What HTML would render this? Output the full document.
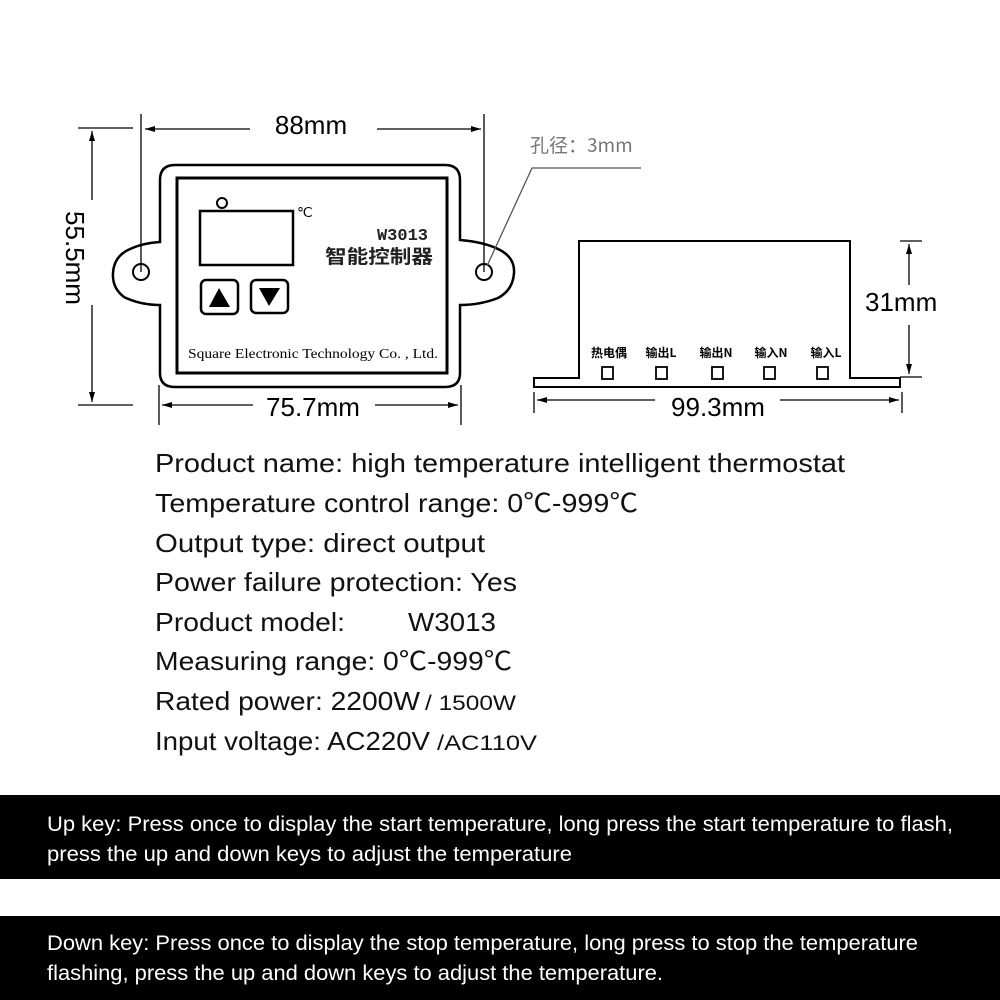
<!DOCTYPE html>
<html><head><meta charset="utf-8"><style>
html,body{margin:0;padding:0;background:#fff;}
svg{display:block;}
</style></head><body>
<svg width="1000" height="1000" viewBox="0 0 1000 1000" xmlns="http://www.w3.org/2000/svg" font-family="'Liberation Sans','Noto Sans CJK SC',sans-serif">
<defs>
<marker id="a" markerWidth="10" markerHeight="8" refX="10" refY="4" orient="auto" markerUnits="userSpaceOnUse"><path d="M0,1 L10,4 L0,7 Z" fill="#000"/></marker>
</defs>
<rect width="1000" height="1000" fill="#fff"/>
<g stroke="#000" stroke-width="1.3" fill="none">
<line x1="141" y1="114" x2="141" y2="272"/>
<line x1="484" y1="114" x2="484" y2="272"/>
<line x1="250" y1="129" x2="145" y2="129" marker-end="url(#a)"/>
<line x1="377" y1="129" x2="481" y2="129" marker-end="url(#a)"/>
<line x1="78" y1="128" x2="133" y2="128"/>
<line x1="78" y1="405" x2="133" y2="405"/>
<line x1="92" y1="200" x2="92" y2="131" marker-end="url(#a)"/>
<line x1="92" y1="305" x2="92" y2="402" marker-end="url(#a)"/>
<line x1="159" y1="385" x2="159" y2="425"/>
<line x1="461" y1="385" x2="461" y2="425"/>
<line x1="253" y1="405" x2="162" y2="405" marker-end="url(#a)"/>
<line x1="375" y1="405" x2="458" y2="405" marker-end="url(#a)"/>
</g>
<path d="M175,165 H445 Q460,165 460,180 V240 Q485,242 500,250 Q515,258 514,273 Q513,290 498,298 Q480,305 460,305 V373 Q460,387 445,387 H175 Q160,387 160,373 V305 Q140,305 124,297 Q112,288 113,273 Q114,257 128,250 Q142,243 160,242 V180 Q160,165 175,165 Z" fill="none" stroke="#000" stroke-width="2.5"/>
<circle cx="141" cy="272" r="8" fill="none" stroke="#000" stroke-width="2"/>
<circle cx="484" cy="272" r="8" fill="none" stroke="#000" stroke-width="2"/>
<rect x="177" y="178" width="270" height="195" fill="none" stroke="#000" stroke-width="3"/>
<rect x="200" y="211" width="93" height="54" fill="none" stroke="#000" stroke-width="2.5"/>
<circle cx="222" cy="203" r="5" fill="#fff" stroke="#000" stroke-width="2"/>
<text x="297" y="217" font-family="'Liberation Serif',serif" font-size="14">℃</text>
<text x="428" y="240" font-size="17" font-weight="bold" text-anchor="end" fill="#222" font-family="'Liberation Mono',monospace">W3013</text>
<text x="325" y="263" font-size="19" font-weight="bold" fill="#222" font-family="'Noto Sans CJK SC',sans-serif" textLength="108" lengthAdjust="spacingAndGlyphs">智能控制器</text>
<rect x="201" y="280" width="37" height="34" rx="5" fill="none" stroke="#000" stroke-width="2.5"/>
<path d="M209,307 L219,288 L230,307 Z" fill="#000"/>
<rect x="251" y="280" width="37" height="33" rx="5" fill="none" stroke="#000" stroke-width="2.5"/>
<path d="M259,288 L280,288 L269,306 Z" fill="#000"/>
<text x="188" y="358" font-size="14" font-family="'Liberation Serif',serif" textLength="250" lengthAdjust="spacingAndGlyphs">Square Electronic Technology Co. , Ltd.</text>
<text x="311" y="134" font-size="26" text-anchor="middle">88mm</text>
<text x="313" y="416" font-size="26" text-anchor="middle">75.7mm</text>
<text transform="translate(66,258) rotate(90)" font-size="26" text-anchor="middle">55.5mm</text>
<text x="530" y="152" font-size="19" fill="#777" font-family="'Noto Sans CJK SC',sans-serif">孔径：3mm</text>
<polyline points="641,168 532,168 487,266" fill="none" stroke="#555" stroke-width="1.3"/>
<path d="M534,378 H579 V241 H850 V378 H900 V387 H534 Z" fill="none" stroke="#000" stroke-width="2"/>
<g font-size="12" font-weight="bold" text-anchor="middle" font-family="'Noto Sans CJK SC',sans-serif">
<text x="609" y="357">热电偶</text><text x="661" y="357">输出L</text><text x="716" y="357">输出N</text><text x="771" y="357">输入N</text><text x="826" y="357">输入L</text>
</g>
<g fill="#fff" stroke="#000" stroke-width="1.8">
<rect x="602" y="367" width="11" height="12"/><rect x="656" y="367" width="11" height="12"/><rect x="712" y="367" width="11" height="12"/><rect x="764" y="367" width="11" height="12"/><rect x="817" y="367" width="11" height="12"/>
</g>
<g stroke="#000" stroke-width="1.3" fill="none">
<line x1="900" y1="241" x2="922" y2="241"/><line x1="900" y1="377" x2="922" y2="377"/>
<line x1="909" y1="285" x2="909" y2="244" marker-end="url(#a)"/>
<line x1="909" y1="325" x2="909" y2="374" marker-end="url(#a)"/>
<line x1="534" y1="392" x2="534" y2="413"/><line x1="902" y1="392" x2="902" y2="413"/>
<line x1="655" y1="400" x2="537" y2="400" marker-end="url(#a)"/>
<line x1="780" y1="400" x2="899" y2="400" marker-end="url(#a)"/>
</g>
<text x="865" y="311" font-size="26">31mm</text>
<text x="718" y="416" font-size="26" text-anchor="middle">99.3mm</text>
<g font-size="26" fill="#111" lengthAdjust="spacingAndGlyphs">
<text x="155" y="472" textLength="690" lengthAdjust="spacingAndGlyphs">Product name: high temperature intelligent thermostat</text>
<text x="155" y="512" textLength="483" lengthAdjust="spacingAndGlyphs">Temperature control range: 0℃-999℃</text>
<text x="155" y="552" textLength="330" lengthAdjust="spacingAndGlyphs">Output type: direct output</text>
<text x="155" y="591" textLength="362" lengthAdjust="spacingAndGlyphs">Power failure protection: Yes</text>
<text x="155" y="631" textLength="190" lengthAdjust="spacingAndGlyphs">Product model:</text>
<text x="408" y="631" textLength="88" lengthAdjust="spacingAndGlyphs">W3013</text>
<text x="155" y="670" textLength="357" lengthAdjust="spacingAndGlyphs">Measuring range: 0℃-999℃</text>
<text x="155" y="710" textLength="265" lengthAdjust="spacingAndGlyphs">Rated power: 2200W</text>
<text x="425" y="710" font-size="21" textLength="91" lengthAdjust="spacingAndGlyphs">/ 1500W</text>
<text x="155" y="750" textLength="275" lengthAdjust="spacingAndGlyphs">Input voltage: AC220V</text>
<text x="437" y="750" font-size="21" textLength="100" lengthAdjust="spacingAndGlyphs">/AC110V</text>
</g>
<rect x="0" y="795" width="1000" height="84" fill="#000"/>
<rect x="0" y="916" width="1000" height="84" fill="#000"/>
<g fill="#fff" font-size="21">
<text x="47" y="831" textLength="906" lengthAdjust="spacingAndGlyphs">Up key: Press once to display the start temperature, long press the start temperature to flash,</text>
<text x="47" y="861" textLength="525" lengthAdjust="spacingAndGlyphs">press the up and down keys to adjust the temperature</text>
<text x="47" y="950" textLength="871" lengthAdjust="spacingAndGlyphs">Down key: Press once to display the stop temperature, long press to stop the temperature</text>
<text x="47" y="980" textLength="616" lengthAdjust="spacingAndGlyphs">flashing, press the up and down keys to adjust the temperature.</text>
</g>
</svg>
</body></html>
